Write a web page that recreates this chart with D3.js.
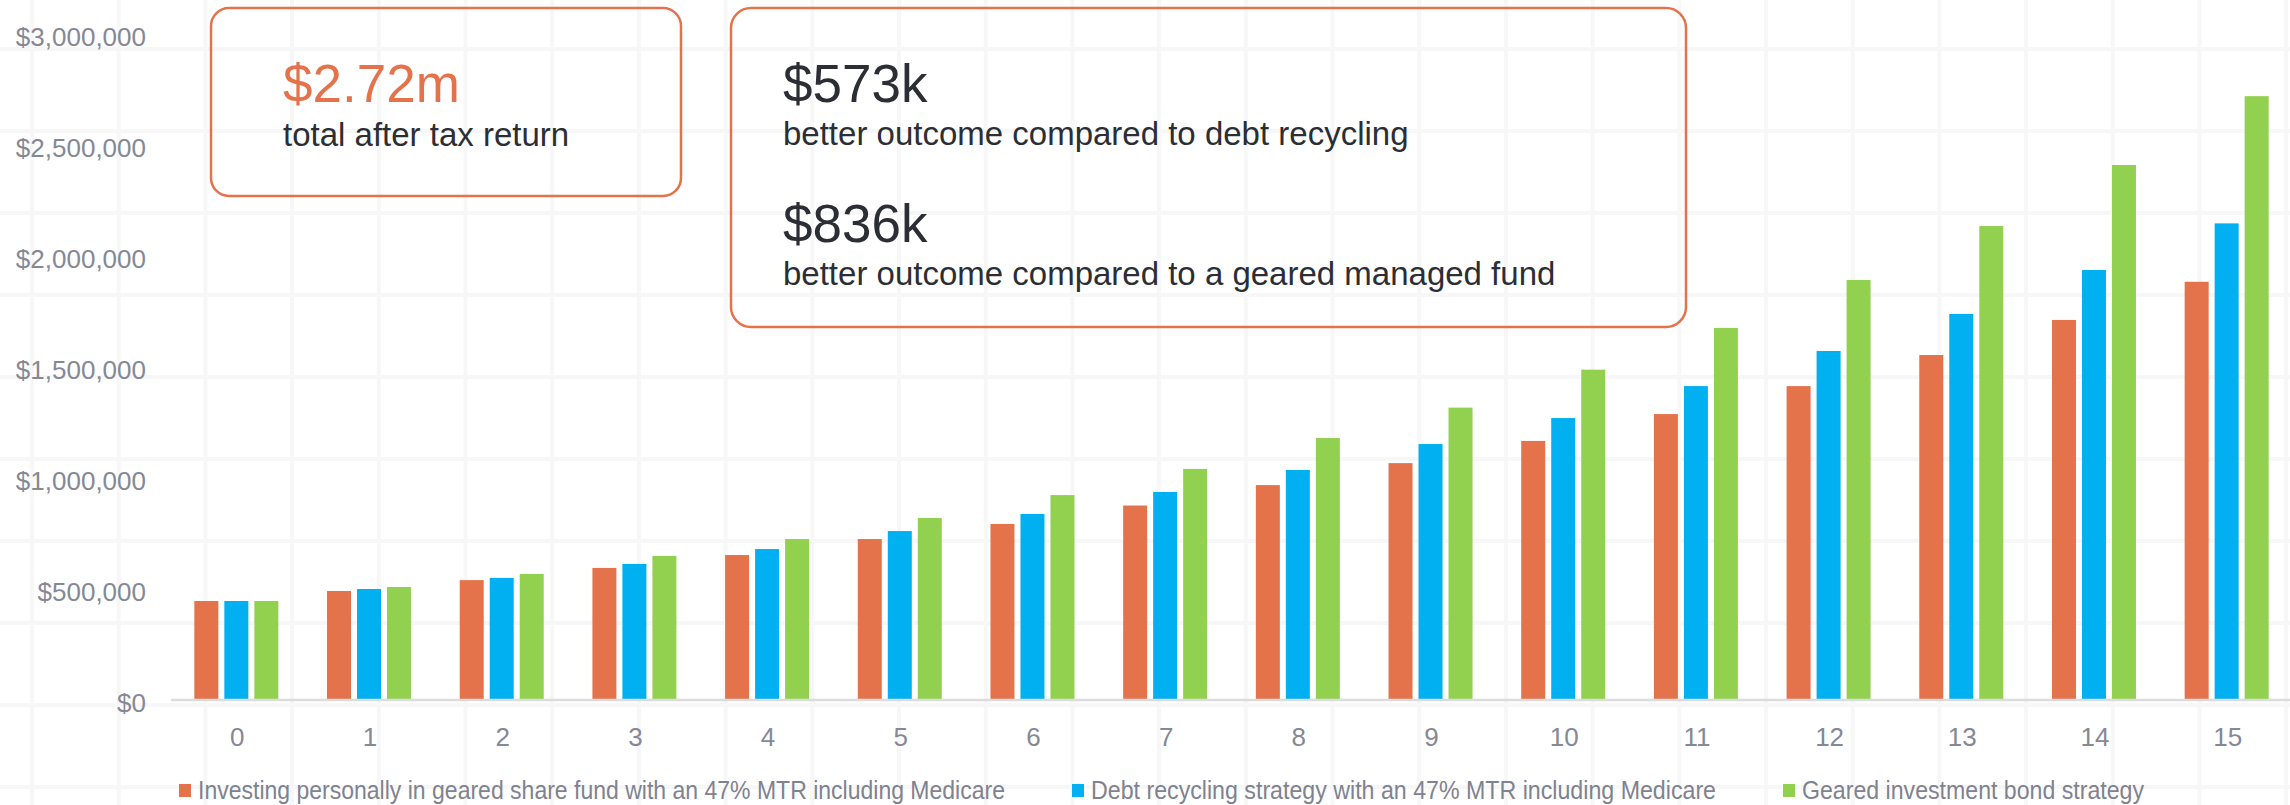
<!DOCTYPE html>
<html>
<head>
<meta charset="utf-8">
<script src="https://cdn.jsdelivr.net/npm/d3@7"></script>
<style>
  html, body { margin: 0; padding: 0; background: #ffffff; }
  svg { display: block; font-family: "Liberation Sans", Arial, Helvetica, sans-serif; }
</style>
</head>
<body>
<svg id="chart" width="2290" height="805"></svg>
<script>
// Years since investing (x categories)
const years = ["0", "1", "2", "3", "4", "5", "6", "7", "8", "9", "10", "11", "12", "13", "14", "15"];

// Portfolio value after tax for each strategy
const personalFund = [446000, 491000, 540000, 595000, 653000, 725000, 793000, 876000, 968000, 1067000, 1167000, 1288000, 1414000, 1554000, 1712000, 1884000];
const debtRecycling = [446000, 500000, 550000, 613000, 680000, 761000, 838000, 937000, 1036000, 1153000, 1270000, 1414000, 1572000, 1739000, 1937000, 2147000];
const bondStrategy = [446000, 509000, 568000, 649000, 725000, 820000, 923000, 1041000, 1180000, 1317000, 1488000, 1676000, 1892000, 2135000, 2410000, 2720000];

const seriesNames = [
  "Investing personally in geared share fund with an 47% MTR including Medicare",
  "Debt recycling strategy with an 47% MTR including Medicare",
  "Geared investment bond strategy"
];
const seriesColors = ["#e4734b", "#00b0f0", "#92d050"];

const yTicks = [0, 500000, 1000000, 1500000, 2000000, 2500000, 3000000];

// Callout figures
const totalHeadline = "$2.72m";
const totalCaption = "total after tax return";
const compareHeadlines = ["$573k", "$836k"];
const compareCaptions = [
  "better outcome compared to debt recycling",
  "better outcome compared to a geared managed fund"
];

const W = 2290, H = 805;
const svg = d3.select("#chart");

// faint background grid pattern
const bg = svg.append("g").attr("class", "bg-grid");
bg.selectAll("line.h").data(d3.range(49, H, 82)).join("line")
  .attr("class", "h").attr("x1", 0).attr("x2", W)
  .attr("y1", d => d).attr("y2", d => d)
  .attr("stroke", "#f7f7f8").attr("stroke-width", 4);
bg.selectAll("line.v").data(d3.range(32, W, 86.7)).join("line")
  .attr("class", "v").attr("y1", 0).attr("y2", H)
  .attr("x1", d => d).attr("x2", d => d)
  .attr("stroke", "#f7f7f8").attr("stroke-width", 4);

// scales
const x0 = d3.scaleBand().domain(years).range([171, 2294]).paddingInner(0).paddingOuter(0);
const x1 = d3.scaleBand().domain(d3.range(3)).range([-43, 41]).paddingInner(0.2).paddingOuter(0);
const y = d3.scaleLinear().domain([0, 3000000]).range([700, 34]);

// y axis labels
const yAxis = d3.axisLeft(y).tickValues(yTicks).tickSize(0).tickPadding(0)
  .tickFormat(d => "$" + d3.format(",")(d));
const gy = svg.append("g").attr("transform", "translate(146,0)").call(yAxis);
gy.select(".domain").remove();
gy.selectAll("text")
  .attr("dy", "0.45em")
  .attr("fill", "#858895")
  .style("font-size", "26px")
  .style("font-family", "'Liberation Sans', Arial, sans-serif");

// bars
const allSeries = [personalFund, debtRecycling, bondStrategy];
const groups = svg.append("g").selectAll("g")
  .data(years)
  .join("g")
  .attr("transform", d => `translate(${x0(d) + x0.bandwidth() / 2},0)`);

groups.selectAll("rect")
  .data((d, i) => allSeries.map((s, k) => ({ k, v: s[i] })))
  .join("rect")
  .attr("x", d => x1(d.k))
  .attr("width", x1.bandwidth())
  .attr("y", d => y(d.v))
  .attr("height", d => y(0) - y(d.v))
  .attr("fill", d => seriesColors[d.k]);

// x axis baseline and labels
svg.append("line")
  .attr("x1", 171).attr("x2", W)
  .attr("y1", y(0)).attr("y2", y(0))
  .attr("stroke", "#dcdce0").attr("stroke-width", 2.5);

const xAxis = d3.axisBottom(x0).tickSize(0).tickPadding(28);
const gx = svg.append("g").attr("transform", `translate(0,${y(0)})`).call(xAxis);
gx.select(".domain").remove();
gx.selectAll("text")
  .attr("fill", "#858895")
  .style("font-size", "26px")
  .style("font-family", "'Liberation Sans', Arial, sans-serif");

// legend (slightly condensed labels)
const legendWidths = [807, 625, 342];
const legend = svg.append("g").attr("transform", "translate(179,0)");
let lx = 0;
seriesNames.forEach((name, k) => {
  const item = legend.append("g").attr("transform", `translate(${lx},0)`);
  item.append("rect")
    .attr("x", 0).attr("y", 784).attr("width", 12).attr("height", 13)
    .attr("fill", seriesColors[k]);
  item.append("text")
    .attr("x", 19).attr("y", 799)
    .attr("fill", "#7f8290")
    .attr("textLength", legendWidths[k])
    .attr("lengthAdjust", "spacingAndGlyphs")
    .style("font-size", "25px")
    .text(name);
  lx += 19 + legendWidths[k] + 67;
});

// callout boxes
const boxStroke = "#e4734b";
svg.append("rect")
  .attr("x", 211).attr("y", 8).attr("width", 470).attr("height", 188)
  .attr("rx", 18).attr("ry", 18)
  .attr("fill", "none").attr("stroke", boxStroke).attr("stroke-width", 2.5);
svg.append("text")
  .attr("x", 283).attr("y", 102)
  .attr("fill", boxStroke).style("font-size", "53px")
  .text(totalHeadline);
svg.append("text")
  .attr("x", 283).attr("y", 146)
  .attr("fill", "#2b2e34").style("font-size", "33px")
  .text(totalCaption);

svg.append("rect")
  .attr("x", 731).attr("y", 8).attr("width", 955).attr("height", 319)
  .attr("rx", 20).attr("ry", 20)
  .attr("fill", "none").attr("stroke", boxStroke).attr("stroke-width", 2.5);
const headY = [102, 242], capY = [145, 285];
compareHeadlines.forEach((h, i) => {
  svg.append("text")
    .attr("x", 783).attr("y", headY[i])
    .attr("fill", "#2b2e34").style("font-size", "53px")
    .text(h);
  svg.append("text")
    .attr("x", 783).attr("y", capY[i])
    .attr("fill", "#2b2e34").style("font-size", "33px")
    .text(compareCaptions[i]);
});
</script>
</body>
</html>
